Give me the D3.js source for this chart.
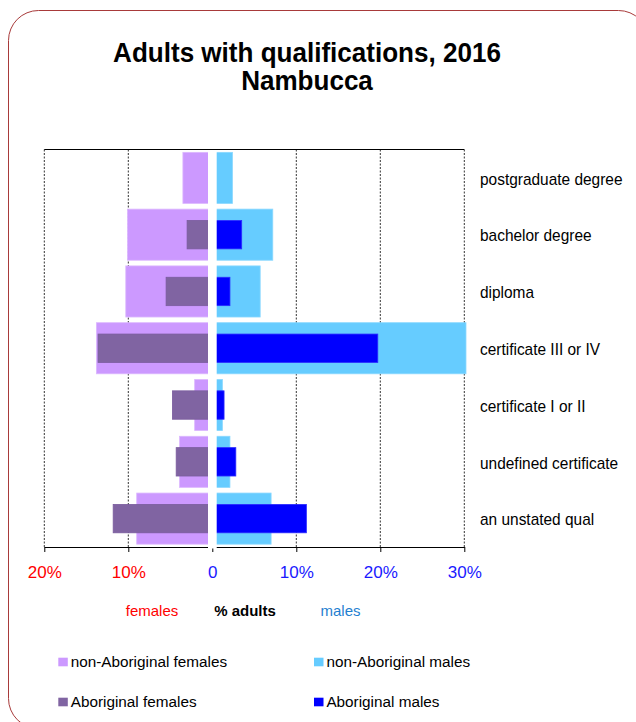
<!DOCTYPE html>
<html>
<head>
<meta charset="utf-8">
<script src="https://cdn.jsdelivr.net/npm/d3@7"></script>
<style>
  html, body { margin: 0; padding: 0; background: #fff; }
  svg { display: block; font-family: "Liberation Sans", Arial, Helvetica, sans-serif; }
</style>
</head>
<body>
<svg id="chart" width="636" height="722"></svg>
<script>
// Qualification categories, top to bottom
const categories = [
  "postgraduate degree",
  "bachelor degree",
  "diploma",
  "certificate III or IV",
  "certificate I or II",
  "undefined certificate",
  "an unstated qual"
];

// % of adults in each group
const nonAboriginalFemales = [3.5, 10.1, 10.3, 13.8, 2.1, 3.9, 9.0];
const aboriginalFemales    = [0,   3.0,  5.5,  13.6, 4.75, 4.3, 11.8];
const nonAboriginalMales   = [2.4, 7.2,  5.7,  30.2, 1.2, 2.1, 7.0];
const aboriginalMales      = [0,   3.5,  2.1,  19.7, 1.4, 2.8, 11.2];

// Axis ticks: females run left (negative), males run right
const tickValues = [-20, -10, 0, 10, 20, 30];
const tickLabels = ["20%", "10%", "0", "10%", "20%", "30%"];

const legendItems = [
  { label: "non-Aboriginal females", color: "#cc99ff" },
  { label: "non-Aboriginal males",   color: "#66ccff" },
  { label: "Aboriginal females",     color: "#8064a2" },
  { label: "Aboriginal males",       color: "#0000ff" }
];

const svg = d3.select("#chart");

// Rounded outer frame
svg.append("rect")
  .attr("x", 8.5).attr("y", 10.5)
  .attr("width", 640).attr("height", 718)
  .attr("rx", 30).attr("ry", 30)
  .attr("fill", "none")
  .attr("stroke", "#a83a3a")
  .attr("stroke-width", 1);

// Title
const title = svg.append("g").attr("font-weight", "bold").attr("font-size", 27).attr("text-anchor", "middle").attr("fill", "#000");
title.append("text").attr("transform", "translate(307,61.5) scale(0.965,1)").text("Adults with qualifications, 2016");
title.append("text").attr("transform", "translate(307,89.5) scale(0.965,1)").text("Nambucca");

const plotTop = 149.5, plotBottom = 547;
const x = d3.scaleLinear().domain([-20, 30]).range([44.3, 464.3]);
const y = d3.scaleBand().domain(categories).range([plotTop, plotBottom]).padding(0);
const bw = y.bandwidth();

// Dashed vertical gridlines
svg.append("g").selectAll("line")
  .data(tickValues.filter(d => d !== 0))
  .join("line")
  .attr("x1", d => x(d)).attr("x2", d => x(d))
  .attr("y1", plotTop).attr("y2", plotBottom)
  .attr("stroke", "#333")
  .attr("stroke-width", 1)
  .attr("stroke-dasharray", "2,1.5");

// Bars: wide pale bars for non-Aboriginal, narrow dark bars for Aboriginal
function drawBars(values, side, color, stroke, offset, height) {
  svg.append("g").selectAll("rect")
    .data(values.map((v, i) => ({ v, cat: categories[i] })).filter(d => d.v > 0))
    .join("rect")
    .attr("x", d => side < 0 ? x(-d.v) : x(0))
    .attr("width", d => Math.abs(x(d.v) - x(0)))
    .attr("y", d => y(d.cat) + offset * bw)
    .attr("height", height * bw)
    .attr("fill", color)
    .attr("stroke", stroke)
    .attr("stroke-width", 0.8);
}
drawBars(nonAboriginalFemales, -1, "#cc99ff", "#dcb8ff", 0.05, 0.9);
drawBars(nonAboriginalMales,    1, "#66ccff", "#8ad8ff", 0.05, 0.9);
drawBars(aboriginalFemales,    -1, "#8064a2", "#7a5c9e", 0.25, 0.5);
drawBars(aboriginalMales,       1, "#0000ff", "#2b2bff", 0.25, 0.5);

// Top frame line
svg.append("line")
  .attr("x1", x(-20)).attr("x2", x(30))
  .attr("y1", plotTop).attr("y2", plotTop)
  .attr("stroke", "#000").attr("stroke-width", 1);

// Bottom axis
const axis = d3.axisBottom(x)
  .tickValues(tickValues)
  .tickFormat((d, i) => tickLabels[i])
  .tickSize(5)
  .tickSizeOuter(0)
  .tickPadding(14);
const axisG = svg.append("g").attr("transform", `translate(0,${plotBottom})`).call(axis);
axisG.select(".domain").attr("stroke", "#000");
axisG.selectAll(".tick line").attr("stroke", "#000");
axisG.selectAll(".tick text")
  .attr("font-size", 17)
  .attr("font-family", "\"Liberation Sans\", Arial, sans-serif")
  .attr("fill", d => d < 0 ? "#ff0000" : "#1a1aff");

// White spine separating females from males
svg.append("rect")
  .attr("x", x(0) - 4.3).attr("width", 8.7)
  .attr("y", plotTop + 0.5).attr("height", plotBottom - plotTop + 1)
  .attr("fill", "#fff");

// Category labels
svg.append("g").selectAll("text")
  .data(categories)
  .join("text")
  .attr("transform", d => `translate(480,${y(d) + bw / 2 + 6.8}) scale(0.965,1)`)
  .attr("font-size", 16)
  .attr("fill", "#000")
  .text(d => d);

// Axis caption
const cap = svg.append("g").attr("font-size", 15).attr("text-anchor", "middle");
cap.append("text").attr("x", 152).attr("y", 615.5).attr("fill", "#ff0000").text("females");
cap.append("text").attr("x", 245).attr("y", 615.5).attr("fill", "#000").attr("font-weight", "bold").text("% adults");
cap.append("text").attr("x", 340.5).attr("y", 615.5).attr("fill", "#1f7fd0").text("males");

// Legend (two columns, two rows)
const legend = svg.append("g").selectAll("g")
  .data(legendItems)
  .join("g")
  .attr("transform", (d, i) => `translate(${i % 2 === 0 ? 58.3 : 314},${Math.floor(i / 2) === 0 ? 667.3 : 707.3})`);
legend.append("rect")
  .attr("x", 0).attr("y", -9.6)
  .attr("width", 9.5).attr("height", 8.6)
  .attr("fill", d => d.color);
legend.append("text")
  .attr("x", 12.4).attr("y", 0)
  .attr("font-size", 15.3)
  .attr("fill", "#000")
  .text(d => d.label);
</script>
</body>
</html>
